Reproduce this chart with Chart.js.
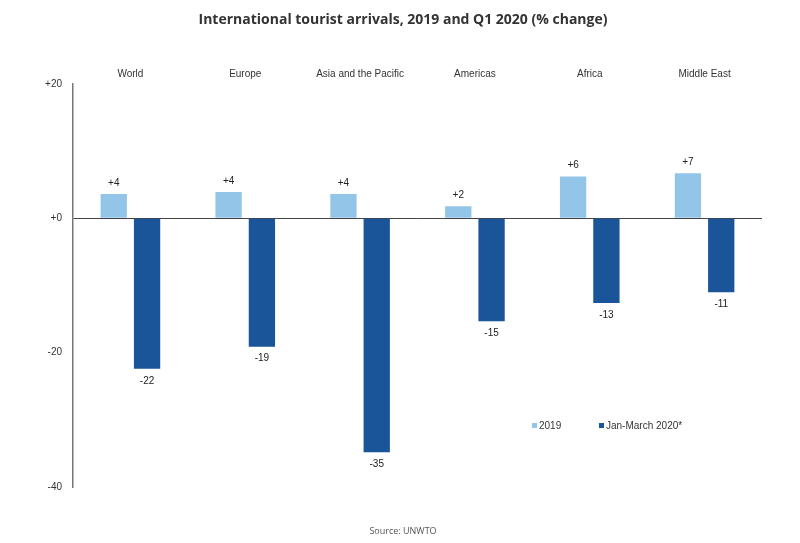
<!DOCTYPE html>
<html>
<head>
<meta charset="utf-8">
<script src="https://cdn.jsdelivr.net/npm/chart.js@4/dist/chart.umd.min.js"></script>
<style>
html,body{margin:0;padding:0;background:#fff}
#wrap{width:800px;height:543px}
</style>
</head>
<body>
<div id="wrap"><canvas id="arrivalsChart" width="800" height="543"></canvas></div>
<script>

// chart data

const regions = ['World','Europe','Asia and the Pacific','Americas','Africa','Middle East']
const change2019 = [3.6,3.9,3.6,1.8,6.2,6.7]
const changeQ1 = [-22.4,-19.1,-34.8,-15.3,-12.6,-11.0]
const yTicks = [20,0,-20,-40]

const lightBlue = '#92c5e8'
const darkBlue = '#1b5599'

const fmt = v => (v >= 0 ? '+' : '') + Math.round(v)


// value labels + legend

const extras = {
id:'extras',
afterDatasetsDraw(chart){
const ctx = chart.ctx
ctx.save()
ctx.font = '10px "Liberation Sans", Arial, sans-serif'
ctx.fillStyle = '#222'
ctx.textAlign = 'center'
ctx.textBaseline = 'middle'
chart.data.datasets.forEach((ds,i)=>{
chart.getDatasetMeta(i).data.forEach((bar,j)=>{
const v = ds.data[j]
const y = v >= 0 ? bar.y - 11 : bar.y + 12
ctx.fillText(fmt(v), bar.x, y)
})
})

// legend inside plot
const items = [['2019',lightBlue,532],['Jan-March 2020*',darkBlue,599]]
ctx.textAlign = 'left'
items.forEach(([txt,col,x])=>{
ctx.fillStyle = col
ctx.fillRect(x, 423, 5, 5)
ctx.fillStyle = '#333'
ctx.fillText(txt, x + 7, 426)
})
ctx.restore()
}
}

new Chart(document.getElementById('arrivalsChart'),{
type:'bar',
data:{
labels:regions,
datasets:[
{label:'2019',data:change2019,backgroundColor:lightBlue},
{label:'Jan-March 2020*',data:changeQ1,backgroundColor:darkBlue}
]
},
options:{
responsive:false,
animation:false,
layout:{padding:{left:44,right:38,top:0,bottom:0}},
plugins:{
legend:{display:false},
tooltip:{enabled:false},
title:{
display:true,
text:'International tourist arrivals, 2019 and Q1 2020 (% change)',
color:'#333',
font:{family:'"Open Sans", sans-serif',size:14,weight:'bold'},
padding:{top:12,bottom:35}
},
subtitle:{
display:true,
position:'bottom',
text:'Source: UNWTO',
color:'#555',
font:{family:'"Open Sans", sans-serif',size:9},
padding:{top:39,bottom:6}
}
},
datasets:{bar:{categoryPercentage:0.58,barPercentage:0.79}},
scales:{
x:{
position:'top',
grid:{display:false,drawTicks:false},
border:{display:false},
ticks:{color:'#333',font:{family:'"Liberation Sans", Arial, sans-serif',size:10},padding:4,maxRotation:0,autoSkip:false}
},
y:{
min:-40,
max:20,
afterBuildTicks(scale){ scale.ticks = yTicks.map(v=>({value:v})) },
afterFit(scale){ scale.width = 29 },
grid:{
drawTicks:false,
color:c => c.tick && c.tick.value === 0 ? '#444' : 'rgba(0,0,0,0)',
lineWidth:1
},
border:{display:true,color:'#777',width:1.5},
ticks:{
color:'#333',
padding:11,
font:{family:'"Liberation Sans", Arial, sans-serif',size:10},
callback:v => fmt(v)
}
}
}
},
plugins:[extras]
})

</script>
</body>
</html>
